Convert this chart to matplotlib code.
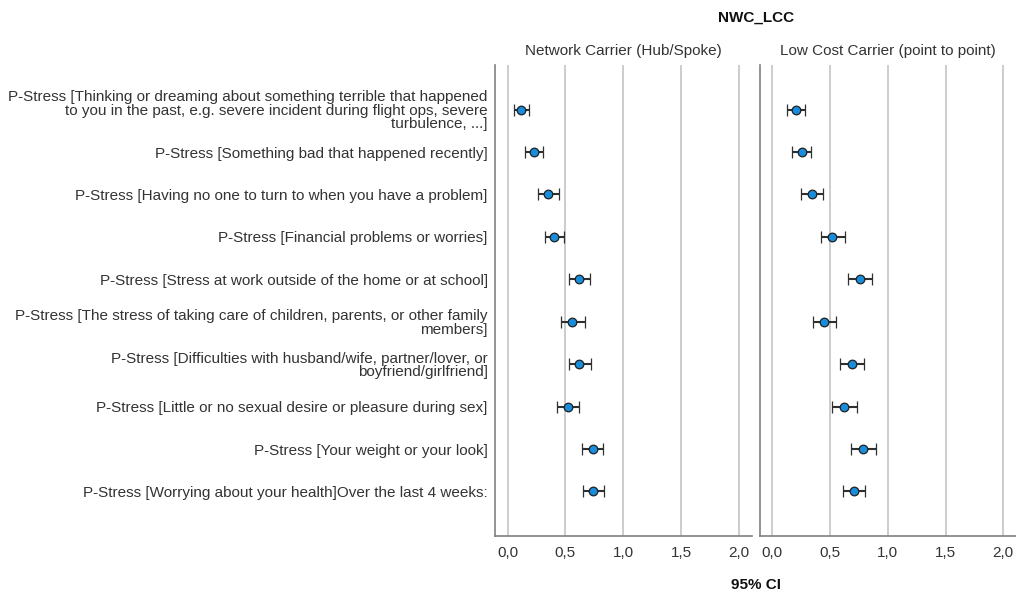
import matplotlib
matplotlib.use("Agg")
import matplotlib.pyplot as plt

plt.rcParams['font.family'] = ['Liberation Sans', 'DejaVu Sans']

items = [
    "P-Stress [Thinking or dreaming about something terrible that happened\nto you in the past, e.g. severe incident during flight ops, severe\nturbulence, ...]",
    "P-Stress [Something bad that happened recently]",
    "P-Stress [Having no one to turn to when you have a problem]",
    "P-Stress [Financial problems or worries]",
    "P-Stress [Stress at work outside of the home or at school]",
    "P-Stress [The stress of taking care of children, parents, or other family\nmembers]",
    "P-Stress [Difficulties with husband/wife, partner/lover, or\nboyfriend/girlfriend]",
    "P-Stress [Little or no sexual desire or pleasure during sex]",
    "P-Stress [Your weight or your look]",
    "P-Stress [Worrying about your health]Over the last 4 weeks:",
]

groups = ["Network Carrier (Hub/Spoke)", "Low Cost Carrier (point to point)"]

# means with lower / upper 95% CI bounds
nwc_mean = [0.12, 0.23, 0.35, 0.40, 0.62, 0.56, 0.62, 0.52, 0.735, 0.74]
nwc_low = [0.06, 0.15, 0.265, 0.32, 0.535, 0.46, 0.53, 0.43, 0.645, 0.655]
nwc_high = [0.185, 0.31, 0.445, 0.485, 0.715, 0.665, 0.72, 0.615, 0.825, 0.83]

lcc_mean = [0.205, 0.255, 0.345, 0.52, 0.76, 0.45, 0.69, 0.62, 0.785, 0.71]
lcc_low = [0.13, 0.17, 0.245, 0.42, 0.655, 0.35, 0.59, 0.52, 0.685, 0.615]
lcc_high = [0.28, 0.335, 0.44, 0.625, 0.865, 0.55, 0.795, 0.73, 0.895, 0.80]

xticks = [0.0, 0.5, 1.0, 1.5, 2.0]
xticklabels = ["0,0", "0,5", "1,0", "1,5", "2,0"]

fig = plt.figure(figsize=(10.16, 5.9), dpi=100)
ax1 = fig.add_axes([0.487, 0.0915, 0.253, 0.7983])
ax2 = fig.add_axes([0.7477, 0.0915, 0.2523, 0.7983])

series = [(nwc_mean, nwc_low, nwc_high), (lcc_mean, lcc_low, lcc_high)]
ypos = list(range(len(items)))

for ax, title, (m, lo, hi) in zip([ax1, ax2], groups, series):
    err = [[a - b for a, b in zip(m, lo)], [c - a for a, c in zip(m, hi)]]
    ax.errorbar(m, ypos, xerr=err, fmt='o', color='#303030', ecolor='#303030',
                elinewidth=1.5, capsize=4, capthick=1.5, markersize=6.2,
                markerfacecolor='#1a8cdc', markeredgecolor='#202020',
                markeredgewidth=0.9, zorder=3)
    ax.set_xlim(-0.11, 2.11)
    ax.set_ylim(len(items) - 1 + 1.05, -1.05)
    ax.set_xticks(xticks)
    ax.set_xticklabels(xticklabels)
    ax.grid(axis='x', color='#c8c8c8', linewidth=1.3, zorder=0)
    ax.set_axisbelow(True)
    for side in ['top', 'right']:
        ax.spines[side].set_visible(False)
    for side in ['left', 'bottom']:
        ax.spines[side].set_color('#808080')
        ax.spines[side].set_linewidth(1.2)
    ax.tick_params(axis='both', length=0, labelsize=11, labelcolor='#333333')
    ax.tick_params(axis='x', pad=7)
    ax.set_title(title, fontsize=11, color='#333333', pad=7)

ax1.set_yticks(ypos)
ax1.set_yticklabels(items, linespacing=0.95)
ax1.tick_params(axis='y', pad=5)
ax2.set_yticks([])

fig.text(0.744, 0.970, "NWC_LCC", ha='center', va='center',
         fontsize=11, fontweight='bold', color='#111111')
fig.text(0.744, 0.009, "95% CI", ha='center', va='center',
         fontsize=11, fontweight='bold', color='#111111')

fig.savefig("out.png", dpi=100)
